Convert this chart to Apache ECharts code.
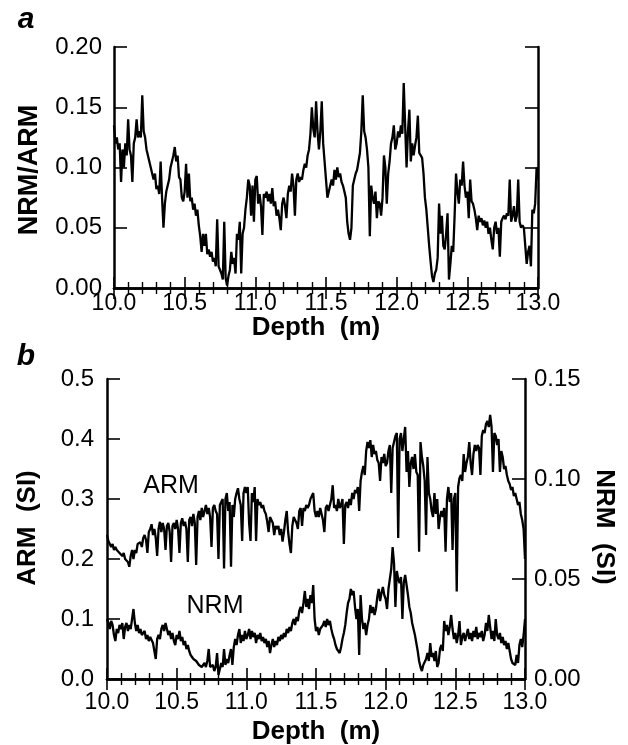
<!DOCTYPE html>
<html>
<head>
<meta charset="utf-8">
<script src="https://cdn.jsdelivr.net/npm/echarts@6/dist/echarts.min.js"></script>
<style>
html,body{margin:0;padding:0;background:#fff;}
#chart{width:628px;height:745px;}
</style>
</head>
<body>
<div id="chart"></div>
<script>
// Depth grid: 10.00 m to 13.00 m in 0.01 m steps
const depthStart = 10.0;
const depthStep = 0.01;

// Panel a: NRM/ARM ratio
const ratioA = [
0.135,0.12,0.125,0.115,0.12,0.088,0.115,0.10,0.12,0.11,
0.14,0.115,0.11,0.088,0.12,0.125,0.14,0.125,0.13,0.125,
0.16,0.13,0.125,0.115,0.11,0.105,0.10,0.095,0.09,0.095,
0.082,0.085,0.078,0.105,0.075,0.05,0.07,0.08,0.085,0.09,
0.10,0.105,0.11,0.117,0.105,0.11,0.092,0.09,0.075,0.072,
0.08,0.103,0.075,0.095,0.072,0.075,0.065,0.07,0.06,0.065,
0.052,0.043,0.03,0.045,0.035,0.045,0.028,0.032,0.026,0.03,
0.022,0.025,0.018,0.057,0.018,0.015,0.012,0.007,0.055,0.008,
0.002,0.01,0.015,0.03,0.02,0.025,0.012,0.045,0.04,0.055,
0.012,0.045,0.05,0.065,0.075,0.09,0.085,0.06,0.085,0.055,
0.09,
0.093,0.07,0.078,0.068,0.044,0.078,0.075,0.08,0.072,0.078,
0.07,0.083,0.068,0.072,0.06,0.065,0.058,0.048,0.07,0.075,
0.068,0.058,0.078,0.085,0.08,0.095,0.085,0.06,0.09,0.095,
0.088,0.092,0.09,0.098,0.103,0.1,0.11,0.115,0.128,0.15,
0.132,0.125,0.155,0.13,0.115,0.13,0.155,0.12,0.105,0.09,
0.075,0.08,0.085,0.09,0.085,0.098,0.09,0.1,0.092,0.095,
0.088,0.085,0.08,0.075,0.055,0.045,0.04,0.05,0.085,0.09,
0.095,0.098,0.105,0.112,0.13,0.16,0.13,0.125,0.115,0.1,
0.043,0.085,0.075,0.07,0.08,0.058,0.072,0.07,0.06,0.075,
0.11,0.1,0.07,0.095,0.105,0.12,0.125,0.135,0.115,0.12,
0.13,0.125,0.135,0.128,0.17,0.135,0.1,0.13,0.148,0.105,
0.12,0.11,0.118,0.125,0.143,0.112,0.11,0.108,0.095,0.075,
0.065,0.05,0.035,0.022,0.01,0.005,0.012,0.015,0.025,0.07,
0.045,0.06,0.035,0.032,0.045,0.062,0.007,0.02,0.035,0.03,
0.06,0.095,0.08,0.07,0.09,0.085,0.105,0.085,0.075,0.08,
0.058,0.09,0.072,0.07,0.065,0.058,0.048,0.06,0.055,0.058,
0.052,0.056,0.05,0.055,0.045,0.05,0.04,0.032,0.05,0.055,
0.045,0.05,0.026,0.055,0.058,0.06,0.057,0.062,0.06,0.09,
0.055,0.06,0.068,0.055,0.06,0.09,0.055,0.05,0.052,0.05,
0.035,0.02,0.03,0.035,0.018,0.065,0.062,0.07,0.1,0.09
];

// Panel b: ARM (SI), left axis
const armB = [
0.24,0.23,0.225,0.22,0.225,0.215,0.22,0.215,0.218,0.21,
0.212,0.205,0.21,0.2,0.198,0.195,0.187,0.205,0.215,0.2,
0.215,0.21,0.225,0.222,0.228,0.22,0.235,0.24,0.232,0.21,
0.245,0.25,0.258,0.24,0.25,0.235,0.205,0.25,0.262,0.245,
0.26,0.25,0.215,0.255,0.26,0.245,0.195,0.255,0.26,0.25,
0.265,0.25,0.21,0.26,0.268,0.255,0.262,0.25,0.195,0.265,
0.27,0.255,0.275,0.26,0.19,0.27,0.28,0.265,0.285,0.27,
0.28,0.29,0.275,0.285,0.27,0.22,0.285,0.29,0.28,0.275,
0.2,0.29,0.295,0.3,0.184,0.3,0.31,0.28,0.295,0.187,
0.29,0.27,0.3,0.31,0.318,0.3,0.29,0.23,0.31,0.32,
0.31,
0.32,0.26,0.23,0.31,0.295,0.32,0.23,0.3,0.29,0.295,
0.285,0.29,0.28,0.275,0.262,0.245,0.27,0.265,0.26,0.24,
0.255,0.25,0.255,0.24,0.25,0.229,0.245,0.265,0.28,0.245,
0.225,0.21,0.255,0.27,0.265,0.26,0.25,0.28,0.285,0.255,
0.285,0.28,0.29,0.285,0.29,0.3,0.305,0.31,0.28,0.27,
0.28,0.27,0.285,0.275,0.265,0.245,0.285,0.29,0.28,0.29,
0.3,0.323,0.285,0.29,0.28,0.3,0.285,0.29,0.3,0.225,
0.29,0.295,0.285,0.3,0.29,0.31,0.3,0.315,0.31,0.32,
0.28,0.33,0.345,0.355,0.34,0.38,0.395,0.385,0.398,0.37,
0.39,0.375,0.38,0.365,0.36,0.33,0.37,0.36,0.375,0.355,
0.36,0.38,0.39,0.31,0.385,0.395,0.405,0.41,0.235,0.4,
0.41,0.38,0.4,0.42,0.345,0.38,0.32,0.36,0.37,0.35,
0.375,0.345,0.34,0.212,0.395,0.37,0.355,0.33,0.24,0.37,
0.31,0.3,0.28,0.27,0.31,0.275,0.3,0.25,0.27,0.28,
0.27,0.285,0.212,0.3,0.32,0.295,0.31,0.215,0.3,0.31,
0.146,0.32,0.335,0.34,0.33,0.375,0.345,0.36,0.37,0.395,
0.36,0.34,0.375,0.39,0.38,0.39,0.385,0.34,0.405,0.415,
0.41,0.425,0.43,0.42,0.44,0.42,0.345,0.41,0.405,0.39,
0.4,0.345,0.38,0.37,0.35,0.355,0.34,0.33,0.325,0.315,
0.32,0.305,0.31,0.3,0.29,0.295,0.275,0.265,0.25,0.2
];

// Panel b: NRM (SI), right axis
const nrmB = [
0.03,0.028,0.025,0.029,0.027,0.022,0.019,0.025,0.023,0.027,
0.025,0.028,0.02,0.026,0.028,0.024,0.027,0.025,0.03,0.035,
0.028,0.024,0.027,0.023,0.025,0.022,0.021,0.024,0.02,0.022,
0.019,0.021,0.02,0.018,0.019,0.01,0.02,0.022,0.02,0.025,
0.027,0.024,0.028,0.025,0.022,0.024,0.02,0.023,0.019,0.017,
0.022,0.02,0.024,0.019,0.021,0.017,0.019,0.015,0.017,0.014,
0.012,0.013,0.01,0.011,0.009,0.008,0.007,0.008,0.006,0.007,
0.008,0.006,0.009,0.015,0.006,0.005,0.007,0.004,0.006,0.013,
0.002,0.005,0.008,0.006,0.015,0.007,0.01,0.008,0.012,0.015,
0.007,0.016,0.02,0.017,0.022,0.025,0.018,0.022,0.019,0.024,
0.02,
0.022,0.025,0.02,0.024,0.021,0.023,0.018,0.022,0.02,0.023,
0.019,0.021,0.018,0.02,0.016,0.019,0.013,0.017,0.02,0.016,
0.019,0.017,0.021,0.019,0.022,0.02,0.023,0.021,0.025,0.023,
0.026,0.024,0.028,0.03,0.027,0.031,0.029,0.034,0.036,0.033,
0.038,0.044,0.036,0.04,0.035,0.042,0.038,0.047,0.03,0.024,
0.026,0.022,0.025,0.024,0.027,0.029,0.026,0.03,0.027,0.029,
0.025,0.022,0.02,0.017,0.015,0.014,0.013,0.016,0.02,0.023,
0.027,0.033,0.038,0.04,0.045,0.042,0.044,0.036,0.03,0.035,
0.012,0.042,0.03,0.025,0.028,0.022,0.027,0.03,0.037,0.033,
0.036,0.032,0.035,0.041,0.045,0.039,0.043,0.046,0.042,0.04,
0.035,0.045,0.05,0.055,0.066,0.058,0.036,0.054,0.05,0.048,
0.051,0.03,0.048,0.052,0.047,0.042,0.036,0.033,0.028,0.025,
0.022,0.018,0.014,0.009,0.006,0.004,0.007,0.006,0.01,0.013,
0.009,0.018,0.011,0.013,0.009,0.014,0.006,0.008,0.015,0.017,
0.014,0.029,0.024,0.027,0.022,0.026,0.032,0.025,0.02,0.023,
0.018,0.022,0.029,0.017,0.021,0.023,0.019,0.022,0.025,0.02,
0.023,0.019,0.024,0.021,0.026,0.02,0.023,0.021,0.024,0.019,
0.022,0.028,0.024,0.032,0.026,0.02,0.024,0.019,0.03,0.022,
0.02,0.023,0.018,0.021,0.017,0.019,0.015,0.018,0.014,0.01,
0.008,0.009,0.007,0.012,0.008,0.017,0.02,0.016,0.022,0.03
];

// Tick labels
const depthTicks = ['10.0','10.5','11.0','11.5','12.0','12.5','13.0'];
const ratioTicks = ['0.00','0.05','0.10','0.15','0.20'];
const armTicks = ['0.0','0.1','0.2','0.3','0.4','0.5'];
const nrmTicks = ['0.00','0.05','0.10','0.15'];

const FONT = '"Liberation Sans", Arial, Helvetica, sans-serif';
const BLACK = '#000';

function toPairs(arr) {
  return arr.map((v, i) => [+(depthStart + i * depthStep).toFixed(2), v]);
}
function pick(labels, min, step) {
  return v => labels[Math.round((v - min) / step)] || '';
}

const lineAx = { show: true, lineStyle: { color: BLACK, width: 2.5 } };

function xAx(grid, pos, showLabel, margin) {
  return {
    gridIndex: grid, type: 'value', position: pos,
    min: 10, max: 13, interval: 0.5,
    axisLine: lineAx,
    axisTick: { show: true, inside: true, length: 11, lineStyle: { color: BLACK, width: 1.6 } },
    minorTick: { show: true, splitNumber: 5, length: 6, lineStyle: { color: BLACK, width: 1.4 } },
    splitLine: { show: false },
    minorSplitLine: { show: false },
    axisLabel: {
      show: showLabel, color: BLACK, fontSize: 23, fontFamily: FONT, margin: margin || 4,
      formatter: pick(depthTicks, 10, 0.5)
    }
  };
}
function yAx(grid, pos, min, max, interval, labels, margin) {
  return {
    gridIndex: grid, type: 'value', position: pos,
    min: min, max: max, interval: interval,
    axisLine: lineAx,
    axisTick: { show: true, inside: true, length: 13, lineStyle: { color: BLACK, width: 1.6 } },
    splitLine: { show: false },
    axisLabel: {
      show: !!labels, color: BLACK, fontSize: 24, fontFamily: FONT, margin: margin || 10,
      formatter: labels ? pick(labels, min, interval) : undefined
    }
  };
}

const chart = echarts.init(document.getElementById('chart'), null, { renderer: 'canvas' });

const titleStyle = (txt, size, weight, style) => ({
  text: txt, fill: BLACK,
  font: (style || 'normal') + ' ' + weight + ' ' + size + 'px ' + FONT,
  textAlign: 'center', textVerticalAlign: 'middle'
});

chart.setOption({
  animation: false,
  backgroundColor: '#fff',
  grid: [
    { left: 114, top: 47, width: 424, height: 241 },
    { left: 107, top: 379, width: 418, height: 300 }
  ],
  xAxis: [
    xAx(0, 'bottom', true, 4),
    xAx(0, 'top', false),
    xAx(1, 'bottom', true, 12),
    xAx(1, 'top', false)
  ],
  yAxis: [
    yAx(0, 'left', 0, 0.2, 0.05, ratioTicks, 12),
    yAx(0, 'right', 0, 0.2, 0.05, null),
    yAx(1, 'left', 0, 0.5, 0.1, armTicks, 13),
    yAx(1, 'right', 0, 0.15, 0.05, nrmTicks, 9)
  ],
  series: [
    {
      name: 'NRM/ARM', type: 'line', xAxisIndex: 0, yAxisIndex: 0,
      data: toPairs(ratioA), showSymbol: false, symbol: 'none',
      lineStyle: { color: BLACK, width: 2.3 }, clip: true
    },
    {
      name: 'ARM', type: 'line', xAxisIndex: 2, yAxisIndex: 2,
      data: toPairs(armB), showSymbol: false, symbol: 'none',
      lineStyle: { color: BLACK, width: 2.3 }, clip: true
    },
    {
      name: 'NRM', type: 'line', xAxisIndex: 2, yAxisIndex: 3,
      data: toPairs(nrmB), showSymbol: false, symbol: 'none',
      lineStyle: { color: BLACK, width: 2.3 }, clip: true
    }
  ],
  graphic: [
    { type: 'text', x: 26, y: 20, style: titleStyle('a', 30, 'bold', 'italic') },
    { type: 'text', x: 30, y: 170, rotation: Math.PI / 2, style: titleStyle('NRM/ARM', 27, 'bold') },
    { type: 'text', x: 316, y: 328, style: titleStyle('Depth  (m)', 26, 'bold') },
    { type: 'text', x: 26, y: 357, style: titleStyle('b', 30, 'bold', 'italic') },
    { type: 'text', x: 28, y: 528, rotation: Math.PI / 2, style: titleStyle('ARM  (SI)', 26, 'bold') },
    { type: 'text', x: 604, y: 527, rotation: -Math.PI / 2, style: titleStyle('NRM  (SI)', 26, 'bold') },
    { type: 'text', x: 316, y: 732, style: titleStyle('Depth  (m)', 26, 'bold') },
    { type: 'text', x: 171, y: 486, style: titleStyle('ARM', 25, 'normal') },
    { type: 'text', x: 215, y: 606, style: titleStyle('NRM', 25, 'normal') }
  ]
});
</script>
</body>
</html>
